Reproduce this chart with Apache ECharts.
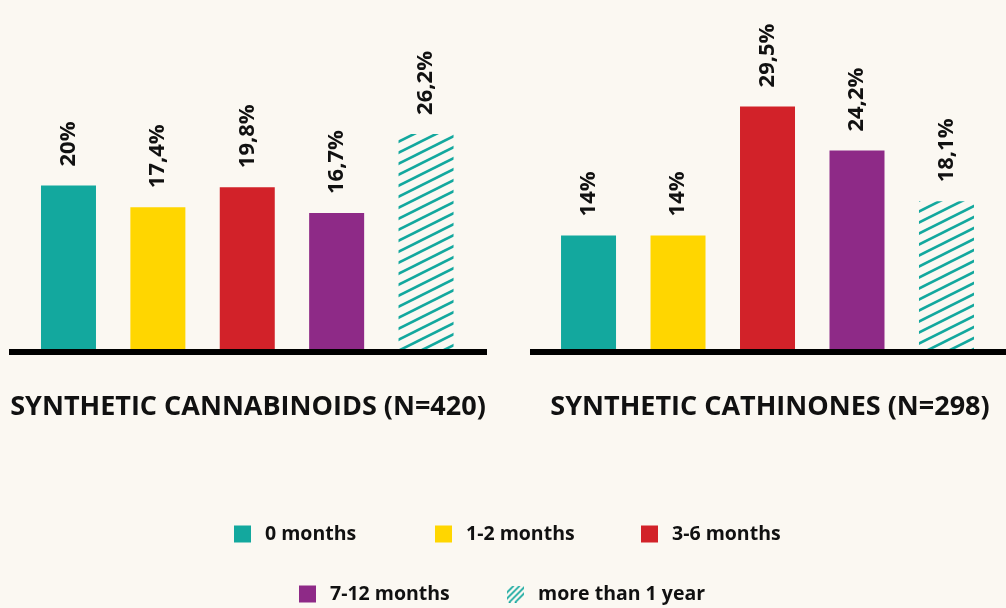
<!DOCTYPE html>
<html>
<head>
<meta charset="utf-8">
<script src="https://cdn.jsdelivr.net/npm/echarts@6/dist/echarts.min.js"></script>
<style>
html,body{margin:0;padding:0;background:#FBF8F2;}
#chart{width:1006px;height:608px;}
</style>
</head>
<body>
<div id="chart"></div>
<script>
const categories = ['0 months', '1-2 months', '3-6 months', '7-12 months', 'more than 1 year'];
const groupTitles = ['SYNTHETIC CANNABINOIDS (N=420)', 'SYNTHETIC CATHINONES (N=298)'];
const cannabinoids = [20, 17.4, 19.8, 16.7, 26.2];
const cathinones = [14, 14, 29.5, 24.2, 18.1];
const colors = ['#13A89E', '#FFD600', '#D22229', '#8E2A87', '#13A89E'];

const FONT = '"Open Sans", sans-serif';
const teal = colors[4];

// hatch pattern for bars
function barHatch() {
  const c = document.createElement('canvas');
  c.width = 22; c.height = 11;
  const ctx = c.getContext('2d');
  ctx.fillStyle = '#FBF8F2';
  ctx.fillRect(0, 0, 22, 11);
  ctx.strokeStyle = teal;
  ctx.lineWidth = 2.6;
  for (let k = -1; k <= 3; k++) {
    ctx.beginPath();
    ctx.moveTo(-22, 11 * k + 11);
    ctx.lineTo(44, 11 * k - 22);
    ctx.stroke();
  }
  return c;
}
function iconHatch() {
  const c = document.createElement('canvas');
  c.width = 17; c.height = 17;
  const ctx = c.getContext('2d');
  ctx.strokeStyle = teal;
  ctx.lineWidth = 1.7;
  [7, 13, 19, 25].forEach(function (s) {
    ctx.beginPath();
    ctx.moveTo(s - 17, 17);
    ctx.lineTo(s, 0);
    ctx.stroke();
  });
  return 'image://' + c.toDataURL();
}
const hatch = { image: barHatch(), repeat: 'repeat' };
const hatchIcon = iconHatch();

function fmt(v) { return String(v).replace('.', ',') + '%'; }

const datasets = [cannabinoids, cathinones];
const xRanges = [[-0.6655, 4.682], [-0.654, 4.665]];

const series = [];
datasets.forEach(function (vals, g) {
  vals.forEach(function (v, i) {
    series.push({
      name: categories[i],
      type: 'bar',
      xAxisIndex: g,
      yAxisIndex: g,
      stack: 'g' + g,
      barWidth: 55,
      data: [[i, v]],
      itemStyle: { color: i === 4 ? hatch : colors[i] },
      label: {
        show: true,
        position: 'top',
        distance: 19,
        rotate: 90,
        align: 'left',
        verticalAlign: 'middle',
        formatter: function (p) { return fmt(p.value[1]); },
        color: '#111',
        fontFamily: FONT,
        fontWeight: 'bold',
        fontSize: 22
      },
      emphasis: { disabled: true }
    });
  });
});

const legendPos = [[234, 524], [435, 524], [641, 524], [299, 584], [507, 584]];
const legends = categories.map(function (name, i) {
  return {
    data: [i === 4 ? { name: name, icon: hatchIcon } : { name: name, icon: 'rect' }],
    left: legendPos[i][0],
    top: legendPos[i][1],
    padding: 0,
    itemWidth: 17,
    itemHeight: 17,
    selectedMode: false,
    textStyle: {
      color: '#111',
      fontFamily: FONT,
      fontWeight: 'bold',
      fontSize: 19.5,
      padding: [0, 0, 0, 9]
    }
  };
});

const option = {
  backgroundColor: '#FBF8F2',
  animation: false,
  title: [
    { text: groupTitles[0], left: 248, top: 394, textAlign: 'center', padding: 0,
      textStyle: { fontFamily: FONT, fontWeight: 'bold', fontSize: 27, color: '#111' } },
    { text: groupTitles[1], left: 770, top: 394, textAlign: 'center', padding: 0,
      textStyle: { fontFamily: FONT, fontWeight: 'bold', fontSize: 27, color: '#111' } }
  ],
  legend: legends,
  grid: [
    { left: 9, width: 478, top: 19, bottom: 256 },
    { left: 530, right: 0, top: 19, bottom: 256 }
  ],
  xAxis: [0, 1].map(function (g) {
    return {
      gridIndex: g, type: 'value', min: xRanges[g][0], max: xRanges[g][1], z: 10,
      axisLine: { show: true, onZero: false, lineStyle: { color: '#000', width: 6, cap: 'butt' } },
      axisTick: { show: false }, axisLabel: { show: false }, splitLine: { show: false }
    };
  }),
  yAxis: [0, 1].map(function (g) {
    return { gridIndex: g, type: 'value', min: 0, max: 40, show: false, splitLine: { show: false } };
  }),
  series: series
};

const chart = echarts.init(document.getElementById('chart'), null, { renderer: 'canvas' });
chart.setOption(option);
</script>
</body>
</html>
